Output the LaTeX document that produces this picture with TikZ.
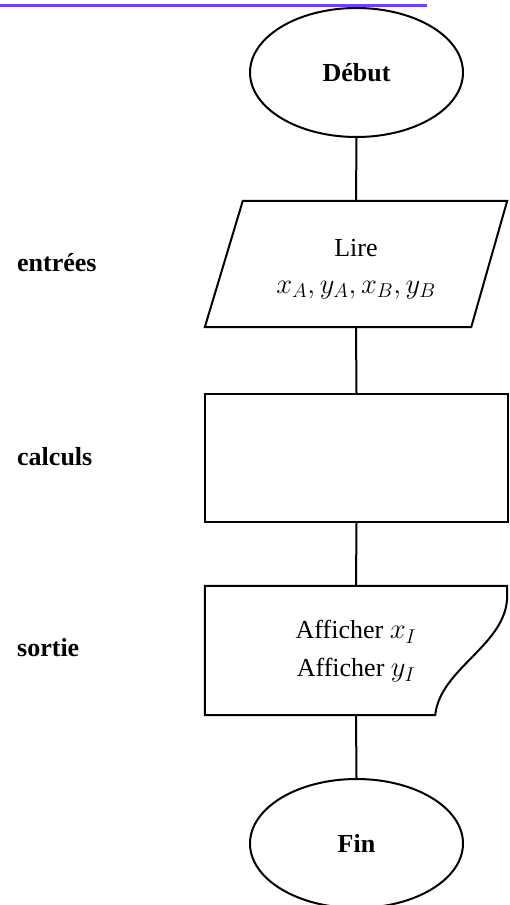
\documentclass[tikz,border=0pt]{standalone}
\usepackage{fix-cm}
\usepackage{fontspec}
\setmainfont{Liberation Serif}
\usetikzlibrary{shapes.geometric,calc}
\definecolor{topline}{RGB}{112,64,255}
\newcommand{\bigmath}[1]{{\fontsize{28.5}{38}\selectfont$#1$}}
\begin{document}
\begin{tikzpicture}[x=1pt,y=-1pt,
  every node/.style={font=\fontsize{26}{38}\selectfont},
  shp/.style={line width=2pt},
  term/.style={shp,draw,ellipse,minimum width=213pt,minimum height=129pt,inner sep=0pt,font=\fontsize{26}{38}\selectfont\bfseries},
  frame/.style={minimum width=#1,inner sep=0pt,align=center},
  txt/.style={inner sep=0pt,align=center},
  side/.style={anchor=west,font=\fontsize{26}{38}\selectfont\bfseries,inner sep=0pt},
  link/.style={line width=2pt}]
\useasboundingbox (0,0) rectangle (510,905);
\draw[topline,line width=2.2pt] (0,5.5) -- (427,5.5);

\node[term] (debut) at (356.5,72.5) {Début};

\node[frame=302pt,minimum height=126pt] (in) at (356,264) {};
\draw[shp] ([xshift=38pt]in.north west) -- (in.north east) -- ([xshift=-36pt]in.south east) -- (in.south west) -- cycle;
\node[txt,font=\fontsize{26}{37}\selectfont] (intext) at ([yshift=-5pt]in.center) {Lire\\\bigmath{x_A,y_A,x_B,y_B}};

\node[frame=303pt,minimum height=128pt,draw,shp] (calc) at (356.5,458) {};

\node[frame=302pt,minimum height=129pt] (out) at (356,650.5) {};
\draw[shp] (out.south west) -- (out.north west) -- (out.north east) -- ++(0,10)
  .. controls (507,645) and (440,668) .. ([xshift=-72pt]out.south east) -- cycle;
\node[txt] (outtext) at ([yshift=-1pt]out.center) {Afficher \bigmath{x_I}\\Afficher \bigmath{y_I}};

\node[term] (fin) at (356.5,843.5) {Fin};

\node[side] (lin) at (17,263) {entrées};
\node[side] (lcalc) at (17,457) {calculs};
\node[side] (lout) at (17,648) {sortie};

\draw[link] (debut.south) -- (in.north);
\draw[link] (in.south) -- (calc.north);
\draw[link] (calc.south) -- (out.north);
\draw[link] (out.south) -- (fin.north);
\end{tikzpicture}
\end{document}
